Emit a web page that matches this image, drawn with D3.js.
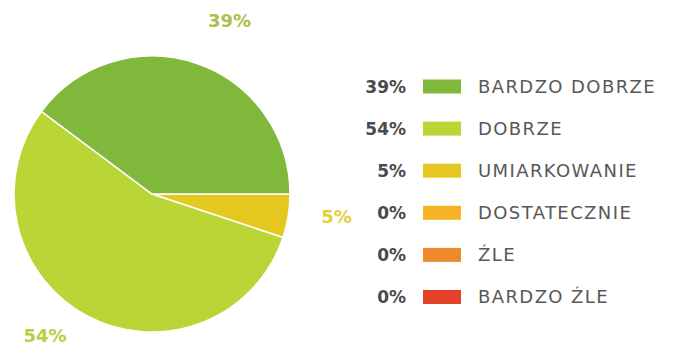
<!DOCTYPE html>
<html>
<head>
<meta charset="utf-8">
<script src="https://cdn.jsdelivr.net/npm/d3@7"></script>
<style>
  html, body { margin: 0; padding: 0; background: #fff; }
  svg { display: block; font-family: "DejaVu Sans", Roboto, sans-serif; }
</style>
</head>
<body>
<div id="vis"></div>
<script>
// legend order, top to bottom
var categories = ['BARDZO DOBRZE', 'DOBRZE', 'UMIARKOWANIE', 'DOSTATECZNIE', 'ŹLE', 'BARDZO ŹLE'];
var values = [39, 54, 5, 0, 0, 0];
var colors = ['#7fb83b', '#bad536', '#e5c81f', '#f6b325', '#ed8a2b', '#e4432a'];
var labelColors = ['#a9c24a', '#b8cf42', '#e2cf3c', '#f6b325', '#ed8a2b', '#e4432a'];

var width = 676;
var height = 349;
var cx = 152;
var cy = 194;
var radius = 138;

var svg = d3.select('#vis')
  .append('svg')
  .attr('width', width)
  .attr('height', height);

// slices go clockwise from 3 o'clock, smallest rating first
var rows = categories.map((c, i) => ({name: c, value: values[i], color: colors[i], labelColor: labelColors[i]}));
var pie = d3.pie()
  .sort(null)
  .value(d => d.value)
  .startAngle(Math.PI / 2)
  .endAngle(Math.PI / 2 + 2 * Math.PI);
var arcs = pie(rows.slice().reverse());

var arc = d3.arc().innerRadius(0).outerRadius(radius);
var labelArc = d3.arc().innerRadius(186).outerRadius(186);

var g = svg.append('g').attr('transform', `translate(${cx}, ${cy})`);

g.selectAll('path')
  .data(arcs.filter(d => d.data.value > 0))
  .enter()
  .append('path')
  .attr('d', arc)
  .style('fill', d => d.data.color)
  .style('stroke', '#fff')
  .style('stroke-width', 1.5);

// small nudges so the outside labels sit where the original put them
var labelNudge = {'BARDZO DOBRZE': [19, 3], 'DOBRZE': [-21, -23], 'UMIARKOWANIE': [1, -7]};

g.selectAll('text.pct')
  .data(arcs.filter(d => d.data.value > 0))
  .enter()
  .append('text')
  .attr('class', 'pct')
  .attr('x', d => labelArc.centroid(d)[0] + (labelNudge[d.data.name] || [0, 0])[0])
  .attr('y', d => labelArc.centroid(d)[1] + (labelNudge[d.data.name] || [0, 0])[1])
  .attr('text-anchor', 'middle')
  .attr('dominant-baseline', 'central')
  .style('font-size', '18px')
  .style('font-weight', 700)
  .style('fill', d => d.data.labelColor)
  .text(d => d.data.value + '%');

// legend
var y = d3.scalePoint()
  .domain(categories)
  .range([86.5, 297]);

var legend = svg.append('g');
var item = legend.selectAll('g')
  .data(rows)
  .enter()
  .append('g')
  .attr('transform', d => `translate(0, ${y(d.name)})`);

item.append('text')
  .attr('x', 406)
  .attr('dy', '0.36em')
  .attr('text-anchor', 'end')
  .style('font-size', '17px')
  .style('font-weight', 700)
  .style('fill', '#4a4a4a')
  .text(d => d.value + '%');

item.append('rect')
  .attr('x', 423)
  .attr('y', -7)
  .attr('width', 38)
  .attr('height', 14)
  .style('fill', d => d.color);

item.append('text')
  .attr('x', 478)
  .attr('dy', '0.36em')
  .style('font-size', '18px')
  .style('letter-spacing', '1.4px')
  .style('fill', '#585858')
  .text(d => d.name);
</script>
</body>
</html>
